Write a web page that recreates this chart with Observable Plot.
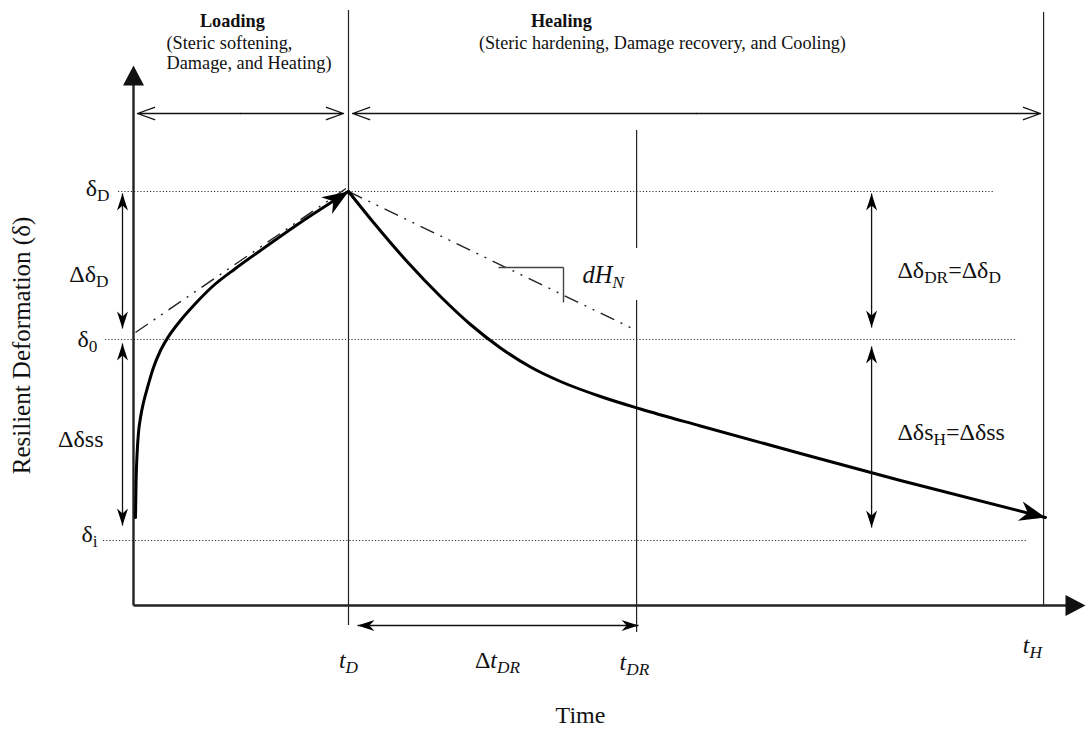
<!DOCTYPE html>
<html><head><meta charset="utf-8">
<script src="https://cdn.jsdelivr.net/npm/d3@7"></script>
<script src="https://cdn.jsdelivr.net/npm/@observablehq/plot@0.6"></script>
<style>html,body{margin:0;padding:0;background:#fff;} #chart svg{display:block;}</style>
</head><body><div id="chart"></div>
<script>
// ---- schematic data (time t and resilient deformation δ, arbitrary units) ----
const timeDomain = [-6.186, 44.326];
const defDomain = [-6.2, 30.25];

const tD = 10.0, tDR = 23.4, tH = 42.33;
const deltaI = 3.25, delta0 = 13.3, deltaD = 20.7;

const loadingCurve = [[0.093,4.4],[0.121,6.25],[0.163,7.5],[0.233,8.65],[0.326,9.4],[0.465,10.15],[0.651,10.9],[0.93,11.9],[1.256,12.75],[1.628,13.45],[2.186,14.25],[2.884,15.1],[3.674,15.95],[4.744,16.85],[5.907,17.75],[7.767,19.15],[10.0,20.7]];
const healingCurve = [[10.0,20.7],[11.163,19.15],[12.744,17.175],[14.279,15.45],[15.674,14.05],[17.07,12.875],[18.465,11.925],[19.86,11.2],[21.721,10.45],[23.581,9.825],[26.372,8.975],[31.023,7.6],[35.674,6.25],[42.419,4.4]];

const trendLines = [
  {x1:0.093, y1:13.65, x2:10.09, y2:21.0},
  {x1:tD, y1:deltaD, x2:tDR, y2:13.75}
];
const slopeTriangle = [
  {x1:16.98, y1:16.9, x2:20.0, y2:16.9},
  {x1:20.0, y1:16.9, x2:20.0, y2:15.15}
];
const levelLines = [
  {y:deltaD, x1:-0.698, x2:40.0},
  {y:delta0, x1:-1.302, x2:41.12},
  {y:deltaI, x1:-1.395, x2:41.53}
];
const timeMarkers = [
  {x:tD, y1:-1.0, y2:29.75},
  {x:tDR, y1:23.75, y2:17.85},
  {x:tDR, y1:15.25, y2:-1.35},
  {x:tH, y1:0, y2:29.65}
];
const axisLines = [
  {x1:0, y1:0, x2:0, y2:26.1},
  {x1:0, y1:0, x2:43.8, y2:0}
];
const axisHeads = [
  {x:0, y:27.0, a:0},
  {x:44.28, y:0, a:90}
];
const verticalSpans = [
  {x:-0.512, top:20.6, bottom:13.85},
  {x:-0.512, top:13.1, bottom:4.0},
  {x:34.33, top:20.6, bottom:13.9},
  {x:34.33, top:12.95, bottom:3.9}
];
const horizontalSpans = [{y:-1.0, left:10.42, right:23.49}];
const phaseSpans = [
  {y:24.6, left:0.186, right:9.77},
  {y:24.6, left:10.19, right:42.19}
];

const leftLabels = [
  {x:-1.116, y:20.5, s:"δ_{D}"},
  {x:-1.163, y:16.2, s:"Δδ_{D}"},
  {x:-1.674, y:12.95, s:"δ_{0}"},
  {x:-1.395, y:7.95, s:"Δδss"},
  {x:-1.674, y:3.2, s:"δ_{i}"}
];
const rightLabels = [
  {x:35.53, y:16.4, s:"Δδ_{DR}=Δδ_{D}"},
  {x:35.53, y:8.3, s:"Δδs_{H}=Δδss"}
];
const phaseTitles = [
  {x:4.6, y:28.95, s:"Loading"},
  {x:19.9, y:28.95, s:"Healing"}
];
const phaseNotesStart = [
  {x:1.535, y:27.83, s:"(Steric softening,"},
  {x:1.535, y:26.83, s:"Damage, and Heating)"}
];
const phaseNotesMiddle = [
  {x:24.6, y:27.85, s:"(Steric hardening, Damage recovery, and Cooling)"}
];
const timeLabels = [
  {x:tD, y:-3.1, s:"t_{D}"},
  {x:16.93, y:-3.1, s:"~{Δ}t_{DR}"},
  {x:23.3, y:-3.2, s:"t_{DR}"},
  {x:41.81, y:-2.35, s:"t_{H}"}
];
const slopeLabel = [{x:20.88, y:16.15, s:"dH_{N}"}];
const xTitle = [{x:20.79, y:-5.85, s:"Time"}];
const yTitle = [{x:-5.163, y:13.0, s:"Resilient Deformation (δ)"}];

// ---- helpers ----
const W = 1086, H = 729;
const sx = d3.scaleLinear(timeDomain, [0, W]);
const sy = d3.scaleLinear(defDomain, [H, 0]);
function headAngle(p, q) { // direction from p to q, degrees clockwise from up
  const dx = sx(q[0]) - sx(p[0]), dy = sy(q[1]) - sy(p[1]);
  return Math.atan2(dx, -dy) * 180 / Math.PI;
}
function headSymbol(L, Wd, notch) {
  return {draw(ctx) {
    ctx.moveTo(0, 0);
    ctx.lineTo(Wd / 2, L);
    ctx.lineTo(0, L * (1 - notch));
    ctx.lineTo(-Wd / 2, L);
    ctx.closePath();
  }};
}
const curveHeads = [
  {x:loadingCurve.at(-1)[0], y:loadingCurve.at(-1)[1], a:headAngle(loadingCurve.at(-2), loadingCurve.at(-1))},
  {x:healingCurve.at(-1)[0], y:healingCurve.at(-1)[1], a:headAngle(healingCurve.at(-2), healingCurve.at(-1))}
];
const spanHeads = [
  ...verticalSpans.flatMap(d => [{x:d.x, y:d.top, a:0}, {x:d.x, y:d.bottom, a:180}]),
  ...horizontalSpans.flatMap(d => [{x:d.left, y:d.y, a:-90}, {x:d.right, y:d.y, a:90}])
];
const phaseArrows = phaseSpans.flatMap(d => {
  const m = (d.left + d.right) / 2;
  return [{x1:m, x2:d.left, y:d.y}, {x1:m, x2:d.right, y:d.y}];
});

const serif = "Liberation Serif, Times New Roman, serif";
const ink = "#111";

const chart = Plot.plot({
  width: W, height: H, margin: 0,
  x: {domain: timeDomain, axis: null},
  y: {domain: defDomain, axis: null},
  style: {background: "#fff", fontFamily: serif, color: ink},
  marks: [
    Plot.ruleY(levelLines, {y:"y", x1:"x1", x2:"x2", stroke:"#333", strokeWidth:1.1, strokeDasharray:"1.2,2"}),
    Plot.ruleX(timeMarkers, {x:"x", y1:"y1", y2:"y2", stroke:"#222", strokeWidth:1.2}),
    Plot.link(axisLines, {x1:"x1", y1:"y1", x2:"x2", y2:"y2", stroke:"#222", strokeWidth:2.4}),
    Plot.dot(axisHeads, {x:"x", y:"y", rotate:"a", r:5, symbol:headSymbol(20, 21, 0), fill:"#111", stroke:"none"}),
    Plot.link(trendLines, {x1:"x1", y1:"y1", x2:"x2", y2:"y2", stroke:"#222", strokeWidth:1.4, strokeDasharray:"15,7,2,7,2,7"}),
    Plot.link(slopeTriangle, {x1:"x1", y1:"y1", x2:"x2", y2:"y2", stroke:"#444", strokeWidth:1.4}),
    Plot.line(loadingCurve, {x:d => d[0], y:d => d[1], curve:"monotone-x", stroke:"#000", strokeWidth:3}),
    Plot.line(healingCurve, {x:d => d[0], y:d => d[1], curve:"monotone-x", stroke:"#000", strokeWidth:3}),
    Plot.dot(curveHeads, {x:"x", y:"y", rotate:"a", r:5, symbol:headSymbol(26, 20, 0.3), fill:"#000", stroke:"none"}),
    Plot.link(verticalSpans, {x1:"x", x2:"x", y1:"top", y2:"bottom", stroke:"#111", strokeWidth:1.3}),
    Plot.link(horizontalSpans, {x1:"left", x2:"right", y1:"y", y2:"y", stroke:"#111", strokeWidth:1.3}),
    Plot.dot(spanHeads, {x:"x", y:"y", rotate:"a", r:5, symbol:headSymbol(17, 11, 0.3), fill:"#000", stroke:"none"}),
    Plot.arrow(phaseArrows, {x1:"x1", x2:"x2", y1:"y", y2:"y", stroke:"#111", strokeWidth:1.3, headAngle:40, headLength:21}),
    Plot.text(leftLabels, {x:"x", y:"y", text:"s", textAnchor:"end", lineAnchor:"bottom", fontSize:24, fill:ink}),
    Plot.text(rightLabels, {x:"x", y:"y", text:"s", textAnchor:"start", lineAnchor:"bottom", fontSize:24, fill:ink}),
    Plot.text(phaseTitles, {x:"x", y:"y", text:"s", textAnchor:"middle", lineAnchor:"bottom", fontSize:18.3, fontWeight:"bold", fill:ink}),
    Plot.text(phaseNotesStart, {x:"x", y:"y", text:"s", textAnchor:"start", lineAnchor:"bottom", fontSize:18.3, fill:ink}),
    Plot.text(phaseNotesMiddle, {x:"x", y:"y", text:"s", textAnchor:"middle", lineAnchor:"bottom", fontSize:18.2, fill:ink}),
    Plot.text(timeLabels, {x:"x", y:"y", text:"s", textAnchor:"middle", lineAnchor:"bottom", fontSize:24, fontStyle:"italic", fill:ink}),
    Plot.text(slopeLabel, {x:"x", y:"y", text:"s", textAnchor:"start", lineAnchor:"bottom", fontSize:24.5, fontStyle:"italic", fill:ink}),
    Plot.text(xTitle, {x:"x", y:"y", text:"s", textAnchor:"middle", lineAnchor:"bottom", fontSize:24, fill:ink}),
    Plot.text(yTitle, {x:"x", y:"y", text:"s", textAnchor:"middle", lineAnchor:"middle", rotate:-90, fontSize:25, fill:ink})
  ]
});

// turn "_{..}" into subscripts and "~{..}" into upright runs
function applyMarkup(svg) {
  svg.querySelectorAll("text").forEach(t => {
    const s = t.textContent;
    if (!/[_~]\{/.test(s)) return;
    const tokens = s.match(/_\{[^}]*\}|~\{[^}]*\}|[^_~]+/g) || [];
    t.textContent = "";
    let inSub = false;
    for (const tok of tokens) {
      const span = document.createElementNS("http://www.w3.org/2000/svg", "tspan");
      if (tok.startsWith("_{")) {
        span.textContent = tok.slice(2, -1);
        span.setAttribute("font-size", "0.72em");
        if (!inSub) span.setAttribute("dy", "0.33em");
        inSub = true;
      } else {
        if (tok.startsWith("~{")) {
          span.textContent = tok.slice(2, -1);
          span.setAttribute("font-style", "normal");
        } else span.textContent = tok;
        if (inSub) span.setAttribute("dy", "-0.2376em");
        inSub = false;
      }
      t.appendChild(span);
    }
  });
}
applyMarkup(chart);
document.getElementById("chart").appendChild(chart);
</script>
</body></html>
